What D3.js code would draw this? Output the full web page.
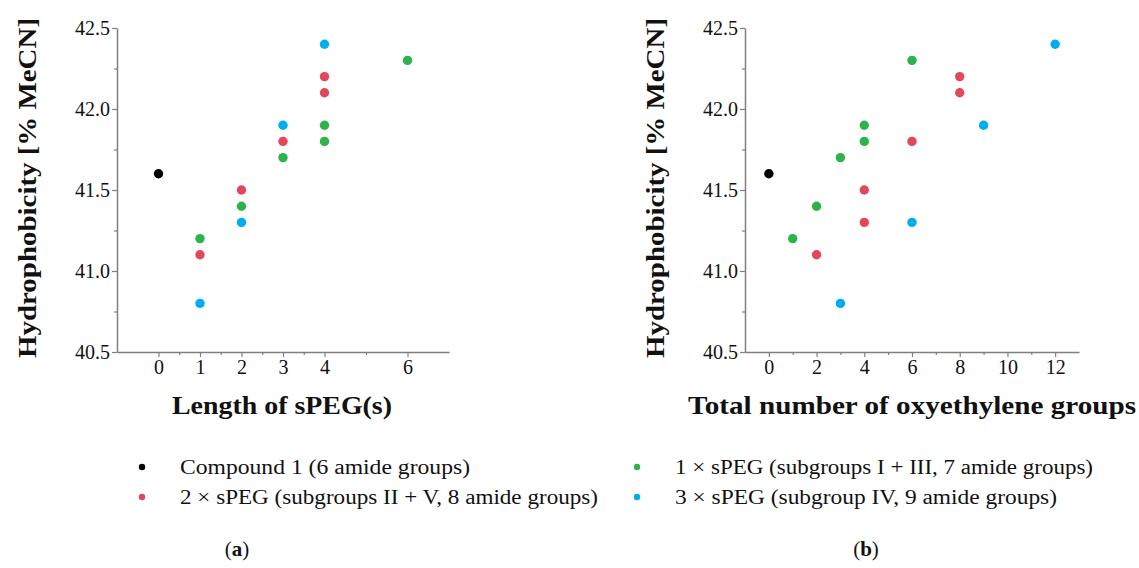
<!DOCTYPE html>
<html>
<head>
<meta charset="utf-8">
<script src="https://cdn.jsdelivr.net/npm/d3@7"></script>
<style>
  body { margin: 0; background: #fff; }
  text { font-family: "Liberation Serif", "Times New Roman", serif; fill: #111; }
</style>
</head>
<body>
<div id="chart"></div>
<script>
// series names and colours
const seriesNames = [
    "Compound 1 (6 amide groups)",
    "1 × sPEG (subgroups I + III, 7 amide groups)",
    "2 × sPEG (subgroups II + V, 8 amide groups)",
    "3 × sPEG (subgroup IV, 9 amide groups)"
];
const seriesColors = ["#000000", "#2db34a", "#e2475b", "#00aeef"];

// panel (a): length of sPEG(s) vs hydrophobicity
const aCompound = [[0, 41.6]];
const aOne = [[1, 41.2], [2, 41.4], [3, 41.7], [4, 41.9], [4, 41.8], [6, 42.3]];
const aTwo = [[1, 41.1], [2, 41.5], [3, 41.8], [4, 42.2], [4, 42.1]];
const aThree = [[1, 40.8], [2, 41.3], [3, 41.9], [4, 42.4]];

// panel (b): total number of oxyethylene groups vs hydrophobicity
const bCompound = [[0, 41.6]];
const bOne = [[1, 41.2], [2, 41.4], [3, 41.7], [4, 41.9], [4, 41.8], [6, 42.3]];
const bTwo = [[2, 41.1], [4, 41.5], [4, 41.3], [6, 41.8], [8, 42.2], [8, 42.1]];
const bThree = [[3, 40.8], [6, 41.3], [9, 41.9], [12, 42.4]];

// ticks
const yMajor = [40.5, 41.0, 41.5, 42.0, 42.5];
const yMinor = [40.75, 41.25, 41.75, 42.25];
const aMajor = [0, 1, 2, 3, 4, 6];
const aMinor = [0.5, 1.5, 2.5, 3.5, 5];
const bMajor = [0, 2, 4, 6, 8, 10, 12];
const bMinor = [1, 3, 5, 7, 9, 11];

const W = 1139, H = 568;
const svg = d3.select("#chart").append("svg")
    .attr("width", W).attr("height", H);

const axisColor = "#7f7f7f";

function panel(opts) {
    const x = d3.scaleLinear().domain(opts.xDomain).range(opts.xRange);
    const y = d3.scaleLinear().domain([40.5, 42.5]).range([352, 28]);
    const g = svg.append("g");

    // y axis, major + minor ticks
    g.append("g").attr("transform", `translate(${opts.xRange[0]},0)`)
        .call(d3.axisLeft(y).tickValues(yMajor).tickFormat(d3.format(".1f"))
            .tickSize(5).tickSizeOuter(0).tickPadding(2));
    g.append("g").attr("transform", `translate(${opts.xRange[0]},0)`)
        .call(d3.axisLeft(y).tickValues(yMinor).tickFormat("").tickSize(3))
        .select(".domain").remove();

    // x axis, major + minor ticks
    g.append("g").attr("transform", "translate(0,352)")
        .call(d3.axisBottom(x).tickValues(opts.major).tickFormat(d3.format("d"))
            .tickSize(5).tickSizeOuter(0).tickPadding(3));
    g.append("g").attr("transform", "translate(0,352)")
        .call(d3.axisBottom(x).tickValues(opts.minor).tickFormat("").tickSize(3))
        .select(".domain").remove();

    g.selectAll(".domain").attr("stroke", axisColor).attr("stroke-width", 1.5);
    g.selectAll(".tick line").attr("stroke", axisColor).attr("stroke-width", 1.2);
    g.selectAll(".tick text").style("font-size", "20px").attr("fill", "#111")
        .style("font-family", '"Liberation Serif", serif');

    // points
    opts.series.forEach((s, i) => {
        g.selectAll(null).data(s).join("circle")
            .attr("cx", d => x(d[0]))
            .attr("cy", d => y(d[1]))
            .attr("r", 4.7)
            .attr("fill", seriesColors[i]);
    });

    // axis titles
    g.append("text")
        .attr("transform", `translate(${opts.yTitleX},188) rotate(-90)`)
        .attr("text-anchor", "middle")
        .attr("dy", "0.35em")
        .style("font-size", "26px").style("font-weight", "bold")
        .attr("textLength", 340).attr("lengthAdjust", "spacingAndGlyphs")
        .text("Hydrophobicity [% MeCN]");
    g.append("text")
        .attr("x", opts.xTitleX).attr("y", 414)
        .attr("text-anchor", "middle")
        .style("font-size", "26px").style("font-weight", "bold")
        .attr("textLength", opts.xTitleLen).attr("lengthAdjust", "spacingAndGlyphs")
        .text(opts.xTitle);

    g.append("text")
        .attr("x", opts.capX).attr("y", 556)
        .attr("text-anchor", "middle")
        .style("font-size", "21px")
        .html(opts.cap);
}

panel({
    xDomain: [-1, 7], xRange: [117, 449],
    major: aMajor, minor: aMinor,
    series: [aCompound, aOne, aTwo, aThree],
    yTitleX: 27, xTitleX: 282, xTitleLen: 220,
    xTitle: "Length of sPEG(s)",
    capX: 237, cap: '(<tspan font-weight="bold">a</tspan>)'
});

panel({
    xDomain: [-1, 13], xRange: [745, 1079],
    major: bMajor, minor: bMinor,
    series: [bCompound, bOne, bTwo, bThree],
    yTitleX: 655, xTitleX: 912, xTitleLen: 448,
    xTitle: "Total number of oxyethylene groups",
    capX: 866, cap: '(<tspan font-weight="bold">b</tspan>)'
});

// legend: two columns, two rows
const legendPos = [
    { x: 142, y: 467, len: 290 },
    { x: 637, y: 467, len: 418 },
    { x: 142, y: 497, len: 418 },
    { x: 637, y: 497, len: 382 }
];
const legend = svg.append("g").selectAll("g")
    .data(seriesNames)
    .join("g")
    .attr("transform", (d, i) => `translate(${legendPos[i].x},${legendPos[i].y})`);
legend.append("circle")
    .attr("r", 3.2)
    .attr("fill", (d, i) => seriesColors[i]);
legend.append("text")
    .attr("x", 38)
    .attr("dy", "0.35em")
    .style("font-size", "20px")
    .attr("textLength", (d, i) => legendPos[i].len)
    .attr("lengthAdjust", "spacingAndGlyphs")
    .text(d => d);
</script>
</body>
</html>
